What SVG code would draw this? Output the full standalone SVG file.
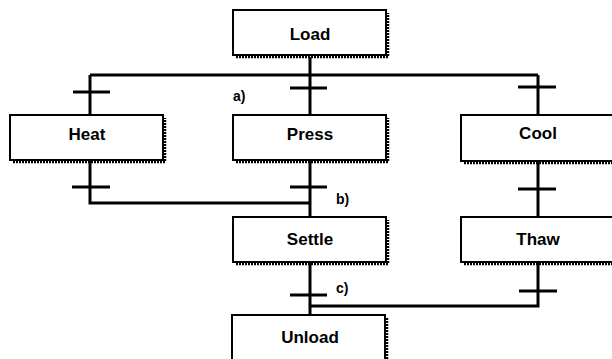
<svg xmlns="http://www.w3.org/2000/svg" width="612" height="359" viewBox="0 0 612 359">
<style>
.box{fill:#fff;stroke:#000;stroke-width:2}
.sh{fill:none;stroke:#000;stroke-width:2.5;stroke-dasharray:2 1}
.lbl{font-family:"Liberation Sans",Arial,sans-serif;font-weight:bold;font-size:17px;text-anchor:middle;fill:#000}
.tag{font-family:"Liberation Sans",Arial,sans-serif;font-weight:bold;font-size:14px;fill:#000}
.ln{fill:none;stroke:#000;stroke-width:3}
.tk{stroke:#000;stroke-width:3}
</style>
<rect width="612" height="359" fill="#fff"/>
<g id="connectors">
<path class="ln" d="M310,57 V115 M90,75 H538 M90,75 V115 M538,75 V115"/>
<path class="ln" d="M90,161 V203 H310 M310,161 V217"/>
<path class="ln" d="M538,162 V217"/>
<path class="ln" d="M310,263 V316 M310,306 H538 V263"/>
<line class="tk" x1="73" y1="92" x2="110" y2="92"/>
<line class="tk" x1="290" y1="88" x2="327" y2="88"/>
<line class="tk" x1="518" y1="87" x2="556" y2="87"/>
<line class="tk" x1="72" y1="187" x2="110" y2="187"/>
<line class="tk" x1="290" y1="187" x2="327" y2="187"/>
<line class="tk" x1="518" y1="189" x2="556" y2="189"/>
<line class="tk" x1="290" y1="295" x2="327" y2="295"/>
<line class="tk" x1="519" y1="291" x2="557" y2="291"/>
<text class="tag" x="233" y="101">a)</text>
<text class="tag" x="336" y="204">b)</text>
<text class="tag" x="336" y="293">c)</text>
</g>
<g id="load">
<path class="sh" d="M236,57 H388 V13"/>
<rect class="box" x="233" y="10" width="153" height="45"/>
<text class="lbl" x="310" y="40">Load</text>
</g>
<g id="heat">
<path class="sh" d="M13,162 H165 V118"/>
<rect class="box" x="10" y="115" width="153" height="45"/>
<text class="lbl" x="87" y="140">Heat</text>
</g>
<g id="press">
<path class="sh" d="M236,162 H388 V118"/>
<rect class="box" x="233" y="115" width="153" height="45"/>
<text class="lbl" x="310" y="140">Press</text>
</g>
<g id="cool">
<path class="sh" d="M464,163 H612"/>
<rect class="box" x="461" y="115" width="160" height="46"/>
<text class="lbl" x="538" y="139">Cool</text>
</g>
<g id="settle">
<path class="sh" d="M236,264 H388 V220"/>
<rect class="box" x="233" y="217" width="153" height="45"/>
<text class="lbl" x="310" y="245">Settle</text>
</g>
<g id="thaw">
<path class="sh" d="M464,264 H612"/>
<rect class="box" x="461" y="217" width="160" height="45"/>
<text class="lbl" x="538" y="245">Thaw</text>
</g>
<g id="unload">
<path class="sh" d="M387,318 V362"/>
<rect class="box" x="232" y="315" width="153" height="60"/>
<text class="lbl" x="310" y="343">Unload</text>
</g>
</svg>
